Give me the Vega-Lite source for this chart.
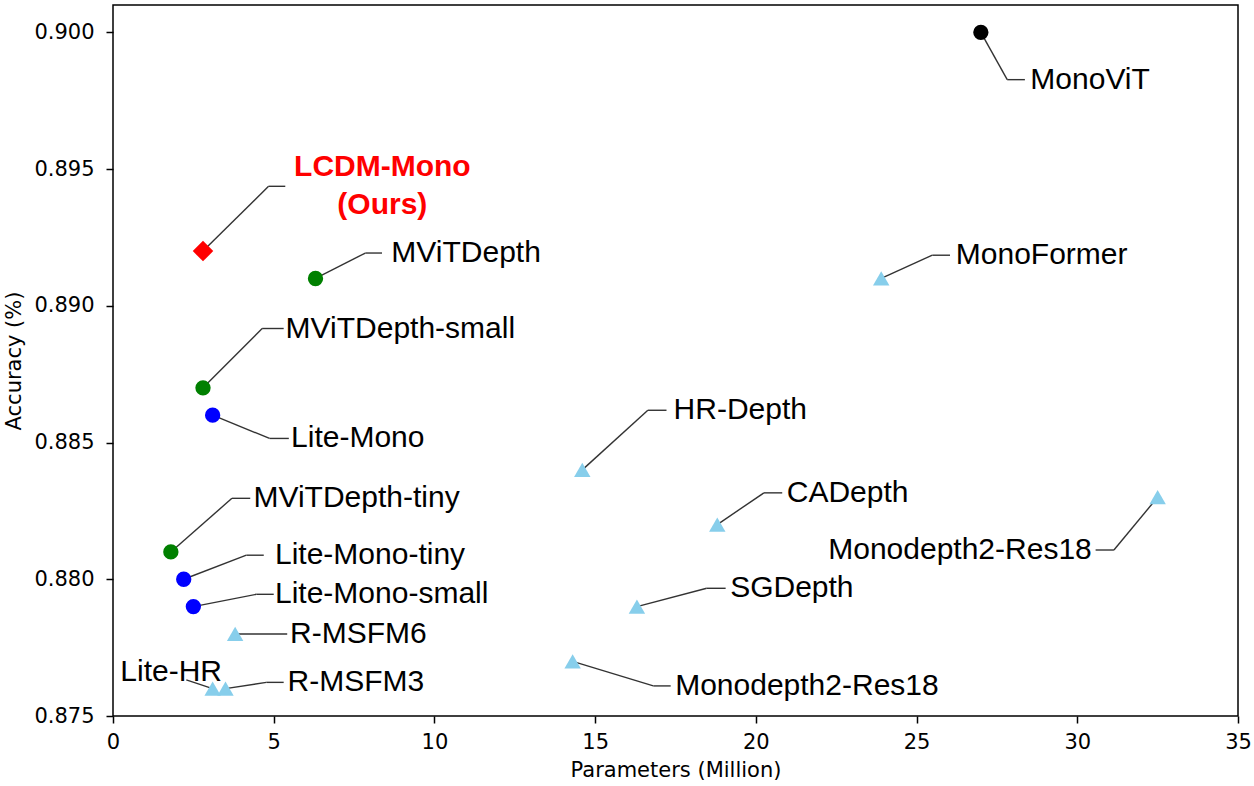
{
  "$schema": "https://vega.github.io/schema/vega-lite/v6.json",
  "width": 1125,
  "height": 711,
  "autosize": {"type": "none"},
  "padding": {"left": 113, "top": 5, "right": 16, "bottom": 70},
  "background": "white",
  "config": {
    "view": {"stroke": "black", "strokeWidth": 1.5},
    "axis": {
      "domain": false, "grid": false, "ticks": true,
      "tickColor": "black", "tickSize": 7, "tickWidth": 1.5,
      "labelFont": "DejaVu Sans", "labelFontSize": 21, "labelColor": "black",
      "titleFont": "DejaVu Sans", "titleFontSize": 21, "titleFontWeight": "normal", "titleColor": "black",
      "labelFlush": false, "labelOverlap": false
    }
  },
  "data": {"values": [
    {"name": "MonoViT", "label": "MonoViT", "params": 27.0, "acc": 0.900, "family": "MonoViT", "ex": 27.82, "ey": 0.89827, "hx": 28.37, "tx": 28.54, "ty": 0.89827},
    {"name": "LCDM-Mono", "label": "LCDM-Mono\n(Ours)", "params": 2.8, "acc": 0.892, "family": "Ours", "ex": 4.84, "ey": 0.89437, "hx": 5.36, "tx": 8.38, "ty": 0.89437},
    {"name": "MViTDepth", "label": "MViTDepth", "params": 6.3, "acc": 0.891, "family": "MViTDepth", "ex": 7.85, "ey": 0.89193, "hx": 8.37, "tx": 8.66, "ty": 0.89193},
    {"name": "MonoFormer", "label": "MonoFormer", "params": 23.9, "acc": 0.891, "family": "Other", "ex": 25.49, "ey": 0.89185, "hx": 26.04, "tx": 26.22, "ty": 0.89185},
    {"name": "MViTDepth-small", "label": "MViTDepth-small", "params": 2.8, "acc": 0.887, "family": "MViTDepth", "ex": 4.64, "ey": 0.88917, "hx": 5.31, "tx": 5.37, "ty": 0.88917},
    {"name": "Lite-Mono", "label": "Lite-Mono", "params": 3.1, "acc": 0.886, "family": "Lite-Mono", "ex": 4.87, "ey": 0.88515, "hx": 5.47, "tx": 5.54, "ty": 0.88515},
    {"name": "HR-Depth", "label": "HR-Depth", "params": 14.6, "acc": 0.884, "family": "Other", "ex": 16.64, "ey": 0.88618, "hx": 17.22, "tx": 17.44, "ty": 0.88618},
    {"name": "CADepth", "label": "CADepth", "params": 18.8, "acc": 0.882, "family": "Other", "ex": 20.25, "ey": 0.88316, "hx": 20.82, "tx": 20.96, "ty": 0.88316},
    {"name": "Monodepth2-Res18", "label": "Monodepth2-Res18", "params": 32.5, "acc": 0.883, "family": "Other", "ex": 31.14, "ey": 0.88107, "hx": 30.57, "tx": 30.45, "ty": 0.88107},
    {"name": "MViTDepth-tiny", "label": "MViTDepth-tiny", "params": 1.8, "acc": 0.881, "family": "MViTDepth", "ex": 3.70, "ey": 0.88296, "hx": 4.27, "tx": 4.37, "ty": 0.88296},
    {"name": "Lite-Mono-tiny", "label": "Lite-Mono-tiny", "params": 2.2, "acc": 0.880, "family": "Lite-Mono", "ex": 4.15, "ey": 0.88088, "hx": 4.69, "tx": 5.04, "ty": 0.88088},
    {"name": "Lite-Mono-small", "label": "Lite-Mono-small", "params": 2.5, "acc": 0.879, "family": "Lite-Mono", "ex": 4.46, "ey": 0.87945, "hx": 5.00, "tx": 5.04, "ty": 0.87945},
    {"name": "SGDepth", "label": "SGDepth", "params": 16.3, "acc": 0.879, "family": "Other", "ex": 18.47, "ey": 0.87967, "hx": 19.06, "tx": 19.20, "ty": 0.87967},
    {"name": "R-MSFM6", "label": "R-MSFM6", "params": 3.8, "acc": 0.878, "family": "Other", "ex": 3.8, "ey": 0.878, "hx": 5.42, "tx": 5.51, "ty": 0.878},
    {"name": "Monodepth2-Res18", "label": "Monodepth2-Res18", "params": 14.3, "acc": 0.877, "family": "Other", "ex": 16.81, "ey": 0.8761, "hx": 17.35, "tx": 17.49, "ty": 0.8761},
    {"name": "Lite-HR", "label": "Lite-HR", "params": 3.1, "acc": 0.876, "family": "Other", "ex": 2.28, "ey": 0.87632, "hx": 2.28, "tx": 1.81, "ty": 0.87662},
    {"name": "R-MSFM3", "label": "R-MSFM3", "params": 3.5, "acc": 0.876, "family": "Other", "ex": 4.77, "ey": 0.87623, "hx": 5.31, "tx": 5.43, "ty": 0.87623}
  ]},
  "layer": [
    {
      "mark": {"type": "rule", "color": "#333333", "strokeWidth": 1.4},
      "encoding": {
        "x": {"field": "params", "type": "quantitative", "scale": {"domain": [0, 35], "nice": false, "zero": false},
              "axis": {"title": "Parameters (Million)", "values": [0, 5, 10, 15, 20, 25, 30, 35], "labelPadding": 8, "titlePadding": 7}},
        "y": {"field": "acc", "type": "quantitative", "scale": {"domain": [0.875, 0.901], "nice": false, "zero": false},
              "axis": {"title": "Accuracy (%)", "values": [0.875, 0.88, 0.885, 0.89, 0.895, 0.9], "format": ".3f", "labelPadding": 12, "titlePadding": 9}},
        "x2": {"field": "ex"},
        "y2": {"field": "ey"}
      }
    },
    {
      "mark": {"type": "rule", "color": "#333333", "strokeWidth": 1.4},
      "encoding": {
        "x": {"field": "ex", "type": "quantitative"},
        "x2": {"field": "hx"},
        "y": {"field": "ey", "type": "quantitative"}
      }
    },
    {
      "mark": {"type": "point", "filled": true, "opacity": 1, "strokeWidth": 0},
      "encoding": {
        "x": {"field": "params", "type": "quantitative"},
        "y": {"field": "acc", "type": "quantitative"},
        "color": {"field": "family", "type": "nominal", "legend": null,
                  "scale": {"domain": ["Ours", "MViTDepth", "Lite-Mono", "MonoViT", "Other"], "range": ["#ff0000", "#008000", "#0000ff", "#000000", "#87ceeb"]}},
        "shape": {"field": "family", "type": "nominal", "legend": null,
                  "scale": {"domain": ["Ours", "MViTDepth", "Lite-Mono", "MonoViT", "Other"], "range": ["diamond", "circle", "circle", "circle", "triangle-up"]}},
        "size": {"field": "family", "type": "nominal", "legend": null,
                 "scale": {"type": "ordinal", "domain": ["Ours", "MViTDepth", "Lite-Mono", "MonoViT", "Other"], "range": [420, 235, 235, 235, 270]}}
      }
    },
    {
      "transform": [{"filter": "datum.name !== 'LCDM-Mono' && datum.name !== 'Lite-HR' && datum.params < 30"}],
      "mark": {"type": "text", "font": "Liberation Sans", "fontSize": 30, "align": "left", "baseline": "middle", "color": "black"},
      "encoding": {
        "x": {"field": "tx", "type": "quantitative"},
        "y": {"field": "ty", "type": "quantitative"},
        "text": {"field": "label"}
      }
    },
    {
      "transform": [{"filter": "datum.params > 30"}],
      "mark": {"type": "text", "font": "Liberation Sans", "fontSize": 30, "align": "right", "baseline": "middle", "color": "black"},
      "encoding": {
        "x": {"field": "tx", "type": "quantitative"},
        "y": {"field": "ty", "type": "quantitative"},
        "text": {"field": "label"}
      }
    },
    {
      "transform": [{"filter": "datum.name === 'Lite-HR'"}],
      "mark": {"type": "text", "font": "Liberation Sans", "fontSize": 30, "align": "center", "baseline": "middle", "color": "black"},
      "encoding": {
        "x": {"field": "tx", "type": "quantitative"},
        "y": {"field": "ty", "type": "quantitative"},
        "text": {"field": "label"}
      }
    },
    {
      "transform": [{"filter": "datum.name === 'LCDM-Mono'"}],
      "mark": {"type": "text", "font": "Liberation Sans", "fontSize": 30, "fontWeight": "bold", "align": "center", "baseline": "middle", "color": "#ff0000", "lineBreak": "\n", "lineHeight": 38, "dy": -19},
      "encoding": {
        "x": {"field": "tx", "type": "quantitative"},
        "y": {"field": "ty", "type": "quantitative"},
        "text": {"field": "label"}
      }
    }
  ]
}
